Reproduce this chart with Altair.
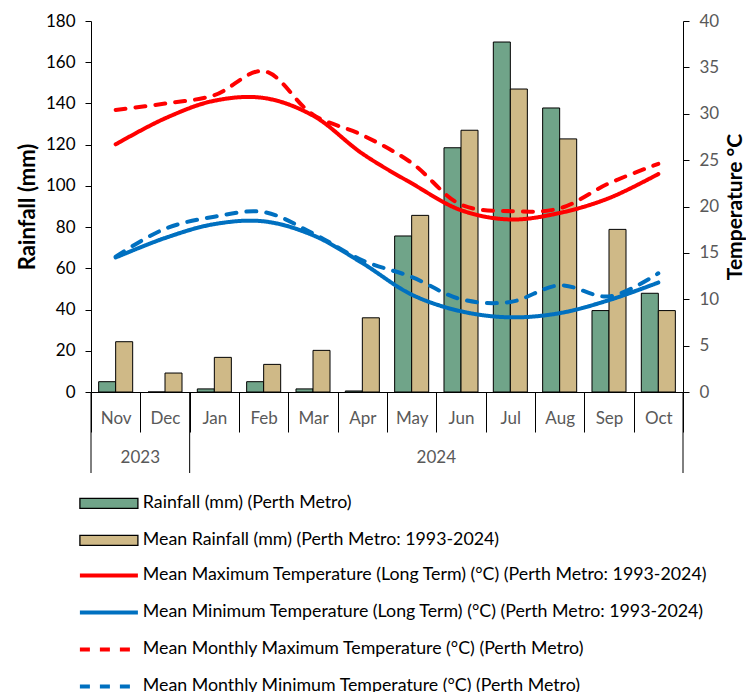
import altair as alt
import pandas as pd

# ---------------- data ----------------
months = ["Nov", "Dec", "Jan", "Feb", "Mar", "Apr", "May", "Jun", "Jul", "Aug", "Sep", "Oct"]

rainfall = [5.0, 0.0, 1.5, 5.0, 1.5, 0.5, 75.7, 118.5, 169.8, 137.8, 39.5, 47.9]
mean_rainfall = [24.4, 9.2, 16.8, 13.4, 20.2, 36.0, 85.7, 127.0, 147.0, 122.8, 78.9, 39.5]

lt_max = [26.7, 29.5, 31.4, 31.7, 29.8, 25.7, 22.5, 19.6, 18.6, 19.3, 20.9, 23.5]
lt_min = [14.5, 16.6, 18.1, 18.4, 16.9, 13.9, 10.5, 8.7, 8.05, 8.5, 9.9, 11.8]
mm_max = [30.4, 31.1, 32.0, 34.6, 29.9, 27.7, 24.7, 20.2, 19.5, 19.8, 22.5, 24.6]
mm_min = [14.6, 17.6, 18.9, 19.4, 17.1, 14.2, 12.4, 10.0, 9.7, 11.5, 10.3, 12.8]

bar_series = ["Rainfall (mm) (Perth Metro)",
              "Mean Rainfall (mm) (Perth Metro: 1993-2024)"]
line_series = ["Mean Maximum Temperature (Long Term) (°C) (Perth Metro: 1993-2024)",
               "Mean Minimum Temperature (Long Term) (°C) (Perth Metro: 1993-2024)",
               "Mean Monthly Maximum Temperature (°C) (Perth Metro)",
               "Mean Monthly Minimum Temperature (°C) (Perth Metro)"]

years = ["2023", "2024"]
year_center_month = ["Dec", "Jun"]      # year label centred on the start of this month
year_start_months = ["Nov", "Jan"]
year_end_months = ["Oct"]

# ---------------- frames ----------------
bars_df = pd.DataFrame(
    [{"month": m, "series": bar_series[0], "value": v} for m, v in zip(months, rainfall)]
    + [{"month": m, "series": bar_series[1], "value": v} for m, v in zip(months, mean_rainfall)]
)
lines_df = pd.DataFrame(
    [{"month": m, "series": s, "temp": v}
     for s, vals in zip(line_series, [lt_max, lt_min, mm_max, mm_min])
     for m, v in zip(months, vals)]
)
year_df = pd.DataFrame({"month": year_center_month, "year": years})
start_df = pd.DataFrame({"month": year_start_months})
end_df = pd.DataFrame({"month": year_end_months})

FONT = "Lato"
GREY = "#595959"
LEG_FS = 17.8

xscale = alt.Scale(domain=months, paddingInner=0, paddingOuter=0)
xaxis = alt.Axis(title=None, labelAngle=0, tickBand="extent", tickSize=40,
                 tickColor="black", domainColor="black", labelColor=GREY,
                 labelFontSize=17, labelFont=FONT, labelBaseline="middle",
                 labelPadding=-14, grid=False)


def X(bp=None):
    if bp is None:
        return alt.X("month:N", scale=xscale, axis=xaxis)
    return alt.X("month:N", scale=xscale, axis=xaxis, bandPosition=bp)


def line_legend():
    return alt.Legend(orient="none", legendX=9, legendY=545.5, title=None,
                      symbolType="M-5.8,0H5.8", symbolSize=100, symbolStrokeWidth=4,
                      labelFont=FONT, labelFontSize=LEG_FS, labelColor="black",
                      labelOffset=25, labelLimit=700, rowPadding=18, padding=0)


bars = alt.Chart(bars_df).mark_bar(stroke="black", strokeWidth=1).encode(
    x=X(),
    xOffset=alt.XOffset("series:N", sort=bar_series,
                        scale=alt.Scale(domain=bar_series, paddingInner=0, paddingOuter=0.45)),
    y=alt.Y("value:Q",
            scale=alt.Scale(domain=[0, 180], nice=False),
            axis=alt.Axis(orient="left", values=list(range(0, 181, 20)), title="Rainfall (mm)",
                          grid=False, tickSize=6, tickColor="black", domainColor="black",
                          labelColor="black", labelFontSize=17, labelFont=FONT, labelPadding=10,
                          titleFont=FONT, titleFontSize=22, titleFontWeight="bold",
                          titleColor="black", titleBaseline="bottom", titlePadding=6)),
    fill=alt.Fill("series:N",
                  scale=alt.Scale(domain=bar_series, range=["#70A489", "#CFB987"]),
                  legend=alt.Legend(orient="none", legendX=9, legendY=473.5, title=None,
                                    symbolType="M-5.8,-1H5.8V1H-5.8Z", symbolSize=100,
                                    symbolStrokeColor="black", symbolStrokeWidth=1.3,
                                    labelFont=FONT, labelFontSize=LEG_FS, labelColor="black",
                                    labelOffset=25, labelLimit=700, rowPadding=18, padding=0)),
)

lines = alt.Chart(lines_df).mark_line(strokeWidth=4, interpolate="catmull-rom",
                                      strokeCap="round").encode(
    x=X(),
    y=alt.Y("temp:Q",
            scale=alt.Scale(domain=[0, 40], nice=False),
            axis=alt.Axis(orient="right", values=list(range(0, 41, 5)), title="Temperature °C",
                          grid=False, tickSize=6, tickColor="black", domainColor="black",
                          labelColor=GREY, labelFontSize=17, labelFont=FONT, labelPadding=10,
                          titleFont=FONT, titleFontSize=21, titleFontWeight="bold",
                          titleColor="black", titleAngle=270, titleBaseline="top",
                          titlePadding=6)),
    stroke=alt.Stroke("series:N",
                      scale=alt.Scale(domain=line_series,
                                      range=["#FF0000", "#0070C0", "#FF0000", "#0070C0"]),
                      legend=line_legend()),
    strokeDash=alt.StrokeDash("series:N",
                              scale=alt.Scale(domain=line_series,
                                              range=[[1, 0], [1, 0], [10, 10], [10, 10]]),
                              legend=line_legend()),
    order=alt.Order("month_idx:Q"),
).transform_calculate(month_idx="indexof(" + str(months) + ", datum.month)")

year_text = alt.Chart(year_df).mark_text(font=FONT, fontSize=17, color=GREY,
                                         baseline="middle", align="center").encode(
    x=X(0), y=alt.value(437), text="year:N")

start_rules = alt.Chart(start_df).mark_rule(color="black", strokeWidth=1).encode(
    x=X(0), y=alt.value(371), y2=alt.value(452))
end_rules = alt.Chart(end_df).mark_rule(color="black", strokeWidth=1).encode(
    x=X(1), y=alt.value(371), y2=alt.value(452))

chart = alt.layer(bars, lines, year_text, start_rules, end_rules).resolve_scale(
    y="independent"
).properties(
    width=592, height=371, autosize="none",
    padding={"left": 83, "top": 13, "right": 63, "bottom": 300},
    background="white",
).configure_view(stroke=None)

chart.save("out.html", embed_options={"renderer": "svg", "actions": False})
